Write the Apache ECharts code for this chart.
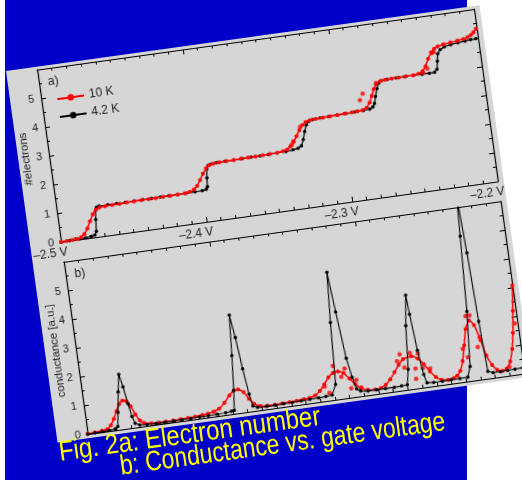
<!DOCTYPE html>
<html>
<head>
    <meta charset="utf-8">
    <title>Fig. 2</title>
    <script src="https://cdn.jsdelivr.net/npm/echarts@6.0.0/dist/echarts.min.js"></script>
    <style type="text/css">
        * {
            margin: 0;
            padding: 0;
        }

        body {
            width: 522px;
            height: 480px;
            background: #fff;
            position: relative;
            overflow: hidden;
        }

        #blue {
            position: absolute;
            left: 5px;
            top: 0;
            width: 462px;
            height: 480px;
            background: #0000c8;
        }

        /* the sheet with both panels is tilted */
        #paper {
            position: absolute;
            left: 6px;
            top: 71px;
            width: 478px;
            height: 375px;
            background: #d6d6d6;
            transform-origin: 0 0;
            transform: rotate(-7.9deg);
        }

        #main {
            width: 478px;
            height: 375px;
        }

        .cap {
            position: absolute;
            color: #ffff00;
            font-family: "Liberation Sans", sans-serif;
            font-size: 28px;
            line-height: 1;
            white-space: nowrap;
            transform-origin: 0 0;
        }
    </style>
</head>
<body>

<div id="blue"></div>
<div id="paper"><div id="main"></div></div>
<div class="cap" style="left:57px; top:438px; transform: rotate(-7.9deg) scaleX(0.86);">Fig. 2a: Electron number</div>
<div class="cap" style="left:118px; top:452px; transform: rotate(-7.9deg) scaleX(0.82);">b: Conductance vs. gate voltage</div>

<script type="text/javascript">
    // a) number of electrons vs gate voltage [V, #]
    var aRed = [
        [-2.500, 0.00], [-2.496, 0.01], [-2.492, 0.02], [-2.489, 0.03], [-2.486, 0.07], [-2.4835, 0.16],
        [-2.481, 0.34], [-2.4785, 0.58], [-2.476, 0.80], [-2.4735, 0.95], [-2.471, 1.00], [-2.467, 1.02],
        [-2.462, 1.03], [-2.457, 1.03], [-2.452, 1.04], [-2.447, 1.04], [-2.442, 1.05], [-2.437, 1.05],
        [-2.432, 1.05], [-2.427, 1.06], [-2.422, 1.06], [-2.417, 1.07], [-2.412, 1.08], [-2.4085, 1.10],
        [-2.4055, 1.16], [-2.403, 1.28], [-2.4005, 1.46], [-2.398, 1.66], [-2.3955, 1.83], [-2.393, 1.92],
        [-2.390, 1.96], [-2.386, 1.97], [-2.381, 1.98], [-2.376, 1.98], [-2.371, 1.99], [-2.366, 2.00],
        [-2.361, 2.00], [-2.356, 2.01], [-2.351, 2.02], [-2.346, 2.03], [-2.342, 2.05], [-2.339, 2.09],
        [-2.3365, 2.18], [-2.334, 2.32], [-2.3315, 2.50], [-2.329, 2.69], [-2.3265, 2.85], [-2.324, 2.94],
        [-2.321, 2.98], [-2.317, 3.00], [-2.312, 3.01], [-2.307, 3.02], [-2.302, 3.03], [-2.297, 3.04],
        [-2.292, 3.05], [-2.288, 3.06], [-2.2845, 3.08], [-2.2815, 3.14], [-2.279, 3.30], [-2.277, 3.52],
        [-2.275, 3.74], [-2.273, 3.90], [-2.270, 3.98], [-2.2665, 4.01], [-2.262, 4.02], [-2.257, 4.02],
        [-2.252, 4.03], [-2.247, 4.03], [-2.2435, 4.05], [-2.2405, 4.12], [-2.238, 4.28], [-2.2355, 4.52],
        [-2.233, 4.72], [-2.2305, 4.84], [-2.228, 4.90], [-2.224, 4.94], [-2.219, 4.97], [-2.214, 5.00],
        [-2.210, 5.03], [-2.207, 5.07], [-2.2045, 5.13], [-2.2025, 5.21], [-2.2005, 5.32]
    ];
    var aBlack = [
        [-2.500, 0.00], [-2.494, 0.01], [-2.488, 0.02], [-2.483, 0.03], [-2.479, 0.05], [-2.4765, 0.08],
        [-2.4752, 0.20], [-2.4745, 0.60], [-2.4738, 0.92], [-2.4728, 1.03], [-2.471, 1.05], [-2.465, 1.05],
        [-2.459, 1.05], [-2.453, 1.05], [-2.447, 1.06], [-2.441, 1.06], [-2.435, 1.06], [-2.429, 1.07],
        [-2.423, 1.07], [-2.417, 1.07], [-2.411, 1.08], [-2.405, 1.08], [-2.400, 1.09], [-2.3972, 1.11],
        [-2.3962, 1.20], [-2.3957, 1.50], [-2.3950, 1.80], [-2.3938, 1.91], [-2.392, 1.95], [-2.388, 1.97],
        [-2.382, 1.98], [-2.376, 1.98], [-2.370, 1.99], [-2.364, 2.00], [-2.358, 2.00], [-2.352, 2.01],
        [-2.346, 2.02], [-2.340, 2.03], [-2.335, 2.05], [-2.3315, 2.08], [-2.3290, 2.15], [-2.3272, 2.35],
        [-2.3255, 2.62], [-2.3238, 2.84], [-2.3218, 2.95], [-2.319, 2.99], [-2.314, 3.01], [-2.308, 3.02],
        [-2.302, 3.03], [-2.296, 3.04], [-2.290, 3.05], [-2.284, 3.06], [-2.2795, 3.08], [-2.2772, 3.14],
        [-2.2758, 3.25], [-2.2745, 3.48], [-2.2728, 3.74], [-2.2712, 3.92], [-2.269, 3.99], [-2.265, 4.01],
        [-2.259, 4.02], [-2.253, 4.02], [-2.247, 4.02], [-2.241, 4.02], [-2.236, 4.02], [-2.2325, 4.03],
        [-2.2305, 4.12], [-2.2295, 4.40], [-2.2286, 4.65], [-2.2265, 4.78], [-2.2235, 4.85], [-2.219, 4.90],
        [-2.214, 4.93], [-2.209, 4.95], [-2.205, 4.97], [-2.2015, 4.98]
    ];
    var aRedDots = [
        [-2.3355, 2.22], [-2.3340, 2.34], [-2.3282, 2.80], [-2.2853, 3.43], [-2.2829, 3.64],
        [-2.2729, 3.94], [-2.2401, 4.06], [-2.2370, 4.19], [-2.2325, 4.70], [-2.2312, 4.72]
    ];

    // b) conductance vs gate voltage [V, a.u.]
    var bRed = [
        [-2.500, 0.02], [-2.495, 0.03], [-2.490, 0.05], [-2.4865, 0.08], [-2.4835, 0.20], [-2.481, 0.40],
        [-2.4785, 0.65], [-2.476, 0.88], [-2.4735, 0.98], [-2.471, 0.95], [-2.4685, 0.75], [-2.466, 0.45],
        [-2.4635, 0.22], [-2.461, 0.12], [-2.456, 0.07], [-2.451, 0.06], [-2.446, 0.06], [-2.441, 0.06],
        [-2.436, 0.07], [-2.431, 0.08], [-2.426, 0.09], [-2.421, 0.11], [-2.417, 0.13], [-2.413, 0.17],
        [-2.409, 0.25], [-2.405, 0.42], [-2.401, 0.65], [-2.3975, 0.80], [-2.3945, 0.82], [-2.391, 0.70],
        [-2.388, 0.45], [-2.385, 0.25], [-2.381, 0.15], [-2.376, 0.12], [-2.371, 0.12], [-2.366, 0.13],
        [-2.361, 0.14], [-2.356, 0.15], [-2.351, 0.17], [-2.347, 0.19], [-2.343, 0.25], [-2.3395, 0.38],
        [-2.336, 0.58], [-2.3325, 0.80], [-2.329, 0.93], [-2.3256, 0.96], [-2.322, 0.88], [-2.3185, 0.66],
        [-2.315, 0.44], [-2.3115, 0.28], [-2.307, 0.19], [-2.302, 0.16], [-2.298, 0.19], [-2.2945, 0.28],
        [-2.291, 0.44], [-2.2875, 0.66], [-2.284, 0.90], [-2.2805, 1.07], [-2.2748, 1.13], [-2.2705, 1.02],
        [-2.267, 0.80], [-2.2635, 0.52], [-2.260, 0.30], [-2.2565, 0.18], [-2.252, 0.15], [-2.248, 0.18],
        [-2.2455, 0.25], [-2.243, 0.40], [-2.2405, 0.72], [-2.238, 1.25], [-2.2355, 1.80], [-2.2325, 2.08],
        [-2.2295, 1.90], [-2.2265, 1.35], [-2.224, 0.80], [-2.221, 0.45], [-2.218, 0.26], [-2.2145, 0.20],
        [-2.2115, 0.26], [-2.2085, 0.48], [-2.206, 0.90], [-2.204, 1.45], [-2.202, 2.20], [-2.200, 3.07]
    ];
    var bBlack = [
        [-2.500, 0.00], [-2.495, 0.01], [-2.490, 0.02], [-2.485, 0.03], [-2.481, 0.05], [-2.479, 0.12],
        [-2.4775, 0.60], [-2.4755, 1.30], [-2.4735, 1.90], [-2.4718, 1.45], [-2.4700, 0.85], [-2.4685, 0.40],
        [-2.4670, 0.15], [-2.464, 0.07], [-2.459, 0.05], [-2.453, 0.04], [-2.447, 0.04], [-2.441, 0.04],
        [-2.435, 0.05], [-2.429, 0.05], [-2.423, 0.06], [-2.417, 0.06], [-2.411, 0.07], [-2.405, 0.08],
        [-2.401, 0.10], [-2.3990, 0.12], [-2.3975, 0.80], [-2.3955, 2.00], [-2.3935, 3.40], [-2.3915, 2.60],
        [-2.3895, 1.50], [-2.3875, 0.60], [-2.3860, 0.18], [-2.383, 0.11], [-2.377, 0.10], [-2.371, 0.10],
        [-2.365, 0.11], [-2.359, 0.12], [-2.353, 0.13], [-2.347, 0.14], [-2.341, 0.15], [-2.336, 0.16],
        [-2.3316, 0.18], [-2.3283, 0.53], [-2.3260, 2.66], [-2.3237, 4.40], [-2.3215, 3.00], [-2.3187, 1.37],
        [-2.3165, 0.69], [-2.3145, 0.28], [-2.3120, 0.18], [-2.307, 0.15], [-2.301, 0.15], [-2.295, 0.15],
        [-2.289, 0.15], [-2.284, 0.16], [-2.2800, 0.17], [-2.2780, 0.70], [-2.2755, 2.20], [-2.2728, 3.24],
        [-2.2719, 2.57], [-2.2700, 1.30], [-2.2680, 0.45], [-2.2665, 0.15], [-2.262, 0.13], [-2.256, 0.13],
        [-2.250, 0.14], [-2.244, 0.14], [-2.2385, 0.15], [-2.2360, 0.50], [-2.2330, 2.40], [-2.2305, 5.00],
        [-2.2292, 6.40], [-2.2275, 4.40], [-2.2260, 2.00], [-2.2245, 0.25], [-2.221, 0.18], [-2.216, 0.18],
        [-2.211, 0.19], [-2.206, 0.20], [-2.2005, 0.21]
    ];
    var bRedDots = [
        [-2.3284, 1.17], [-2.3208, 1.03], [-2.3360, 0.50], [-2.3332, 0.27], [-2.3237, 0.76], [-2.3140, 0.58],
        [-2.3181, 0.32], [-2.3113, 0.30], [-2.2824, 1.25], [-2.2848, 1.03], [-2.2803, 0.78], [-2.2755, 1.25],
        [-2.2730, 0.69], [-2.2700, 1.19], [-2.2735, 0.34], [-2.2681, 0.66], [-2.2631, 0.62], [-2.2344, 2.24],
        [-2.2316, 2.25], [-2.2393, 1.14], [-2.2367, 0.83], [-2.2269, 1.46], [-2.2290, 1.13], [-2.2020, 1.76],
        [-2.2095, 0.30]
    ];

    var xMin = -2.5, xMax = -2.2, yMax = 6;

    var myChart = echarts.init(document.getElementById('main'));

    function xAxisOf(grid, pos, showLabel) {
        return {
            type: 'value', gridIndex: grid, position: pos,
            min: xMin, max: xMax, interval: 0.1,
            axisLine: {onZero: false, lineStyle: {color: '#000', width: 1.2}},
            axisTick: {show: true, inside: true, length: 5, lineStyle: {color: '#000'}},
            minorTick: {show: true, splitNumber: 10, length: 3, lineStyle: {color: '#000'}},
            splitLine: {show: false},
            axisLabel: showLabel ? {
                formatter: function (v) {
                    return '\u2013' + Math.abs(v).toFixed(1) + ' V';
                },
                fontSize: 12, color: '#222', margin: 5, padding: [0, 24, 0, 0]
            } : {show: false}
        };
    }

    function yAxisOf(grid, pos, name, gap) {
        return {
            type: 'value', gridIndex: grid, position: pos,
            min: 0, max: yMax, interval: 1,
            axisLine: {show: true, onZero: false, lineStyle: {color: '#000', width: 1.2}},
            axisTick: {show: true, inside: true, length: 5, lineStyle: {color: '#000'}},
            minorTick: {show: true, splitNumber: 2, length: 3, lineStyle: {color: '#000'}},
            splitLine: {show: false},
            axisLabel: name ? {
                formatter: function (v) {
                    return v < yMax ? v : '';
                },
                fontSize: 11, color: '#222', margin: 7
            } : {show: false},
            name: name || '',
            nameLocation: 'middle',
            nameGap: gap || 0,
            nameMoveOverlap: false,
            nameTextStyle: {fontSize: 11.5, color: '#222'}
        };
    }

    var option = {
        animation: false,
        textStyle: {fontFamily: 'Liberation Sans, Arial, sans-serif'},
        grid: [
            {left: 31, top: 3, width: 441, height: 174, containLabel: false, outerBoundsMode: 'none'},
            {left: 31, top: 197, width: 441, height: 174, containLabel: false, outerBoundsMode: 'none'}
        ],
        xAxis: [
            xAxisOf(0, 'bottom', true),
            xAxisOf(0, 'top', false),
            xAxisOf(1, 'bottom', false),
            xAxisOf(1, 'top', false)
        ],
        yAxis: [
            yAxisOf(0, 'left', '#electrons', 17),
            yAxisOf(0, 'right'),
            yAxisOf(1, 'left', 'conductance [a.u.]', 14),
            yAxisOf(1, 'right')
        ],
        legend: {
            data: ['10 K', '4.2 K'],
            orient: 'vertical',
            left: 41, top: 24,
            itemWidth: 27, itemHeight: 8, itemGap: 6,
            textStyle: {fontSize: 12, color: '#222'}
        },
        graphic: [
            {type: 'text', left: 40, top: 11, style: {text: 'a)', fontSize: 12, fill: '#222'}},
            {type: 'text', left: 40, top: 205, style: {text: 'b)', fontSize: 12, fill: '#222'}}
        ],
        series: [
            {
                name: '10 K', type: 'line', xAxisIndex: 0, yAxisIndex: 0, data: aRed, z: 4,
                symbol: 'circle', symbolSize: 4, showAllSymbol: true,
                lineStyle: {color: '#ff0000', width: 1.5}, itemStyle: {color: '#ff0000'}
            },
            {
                name: '4.2 K', type: 'line', xAxisIndex: 0, yAxisIndex: 0, data: aBlack, z: 3,
                symbol: 'circle', symbolSize: 3.5, showAllSymbol: true,
                lineStyle: {color: '#000', width: 1.2}, itemStyle: {color: '#000'}
            },
            {
                name: '10 K', type: 'scatter', xAxisIndex: 0, yAxisIndex: 0, data: aRedDots, z: 4,
                symbolSize: 4.5, itemStyle: {color: '#ff0000'}
            },
            {
                name: '10 K', type: 'line', xAxisIndex: 2, yAxisIndex: 2, data: bRed, z: 3,
                symbol: 'circle', symbolSize: 4, showAllSymbol: true, smooth: 0.2,
                lineStyle: {color: '#ff0000', width: 1.5}, itemStyle: {color: '#ff0000'}
            },
            {
                name: '4.2 K', type: 'line', xAxisIndex: 2, yAxisIndex: 2, data: bBlack, z: 4,
                symbol: 'circle', symbolSize: 3.5, showAllSymbol: true,
                lineStyle: {color: '#000', width: 1.1}, itemStyle: {color: '#000'}
            },
            {
                name: '10 K', type: 'scatter', xAxisIndex: 2, yAxisIndex: 2, data: bRedDots, z: 3,
                symbolSize: 4.5, itemStyle: {color: '#ff0000'}
            }
        ]
    };

    myChart.setOption(option);
</script>
</body>
</html>
